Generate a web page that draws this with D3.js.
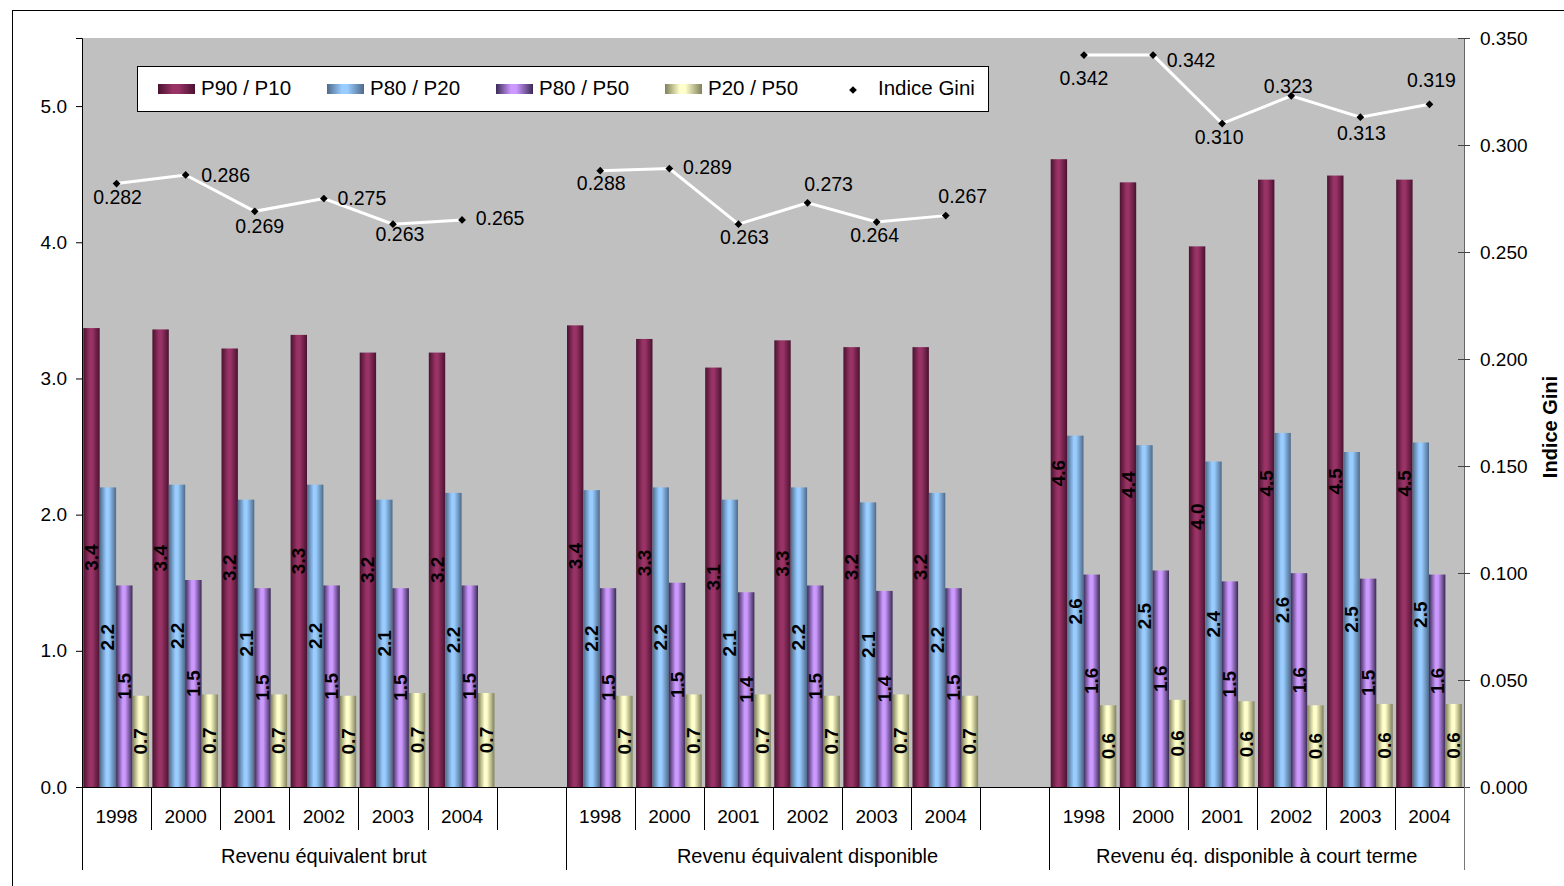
<!DOCTYPE html>
<html>
<head>
<meta charset="utf-8">
<script src="https://cdn.jsdelivr.net/npm/d3@7"></script>
<style>
  html, body { margin: 0; padding: 0; background: #fff; }
  svg { display: block; font-family: "Liberation Sans", Arial, sans-serif; }
</style>
</head>
<body>
<svg id="chart" width="1564" height="886"></svg>
<script>
// ---------- DATA ----------
const groups = ["Revenu équivalent brut", "Revenu équivalent disponible", "Revenu éq. disponible à court terme"];
const years = ["1998", "2000", "2001", "2002", "2003", "2004"];
const seriesNames = ["P90 / P10", "P80 / P20", "P80 / P50", "P20 / P50"];
const giniName = "Indice Gini";

// values per group (rows: groups, columns: years)
const p90p10 = [
  [3.37, 3.36, 3.22, 3.32, 3.19, 3.19],
  [3.39, 3.29, 3.08, 3.28, 3.23, 3.23],
  [4.61, 4.44, 3.97, 4.46, 4.49, 4.46]
];
const p80p20 = [
  [2.20, 2.22, 2.11, 2.22, 2.11, 2.16],
  [2.18, 2.20, 2.11, 2.20, 2.09, 2.16],
  [2.58, 2.51, 2.39, 2.60, 2.46, 2.53]
];
const p80p50 = [
  [1.48, 1.52, 1.46, 1.48, 1.46, 1.48],
  [1.46, 1.50, 1.43, 1.48, 1.44, 1.46],
  [1.56, 1.59, 1.51, 1.57, 1.53, 1.56]
];
const p20p50 = [
  [0.67, 0.68, 0.68, 0.67, 0.69, 0.69],
  [0.67, 0.68, 0.68, 0.67, 0.68, 0.67],
  [0.60, 0.64, 0.63, 0.60, 0.61, 0.61]
];
const gini = [
  [0.282, 0.286, 0.269, 0.275, 0.263, 0.265],
  [0.288, 0.289, 0.263, 0.273, 0.264, 0.267],
  [0.342, 0.342, 0.310, 0.323, 0.313, 0.319]
];
const leftTicks = [0, 1, 2, 3, 4, 5];
const rightTicks = [0, 0.05, 0.10, 0.15, 0.20, 0.25, 0.30, 0.35];

// ---------- LAYOUT (label offsets of Gini data labels, label centre relative to point, px) ----------
const giniLabelOffset = [
  [[1, 13], [40, 0], [5, 15], [38, -1], [7, 10], [38, -2]],
  [[1, 12], [38, -2], [6, 13], [21, -19], [-2, 13], [17, -20]],
  [[0, 23], [38, 5], [-3, 13], [-3, -10], [1, 16], [2, -24]]
];

// ---------- STYLE ----------
const colors = [
  { dark: "#4a1230", mid: "#993366" },
  { dark: "#4d6a8a", mid: "#99ccff" },
  { dark: "#3a2a55", mid: "#cc99ff" },
  { dark: "#80805a", mid: "#ffffcc" }
];
const FONT = 19;

const svg = d3.select("#chart");
const defs = svg.append("defs");
colors.forEach((c, i) => {
  const g = defs.append("linearGradient").attr("id", "grad" + i)
    .attr("x1", "0%").attr("x2", "100%").attr("y1", "0%").attr("y2", "0%");
  g.append("stop").attr("offset", "0%").attr("stop-color", c.dark);
  g.append("stop").attr("offset", "40%").attr("stop-color", c.mid);
  g.append("stop").attr("offset", "55%").attr("stop-color", c.mid);
  g.append("stop").attr("offset", "100%").attr("stop-color", c.dark);
});

// chart border
svg.append("rect").attr("x", 12.5).attr("y", 10.5).attr("width", 1600).attr("height", 900)
  .attr("fill", "#fff").attr("stroke", "#000").attr("stroke-width", 1);

// ---------- SCALES ----------
const plot = { left: 82, right: 1464, top: 38, bottom: 787 };
const cats = [];
groups.forEach((g, gi) => {
  years.forEach((y, yi) => cats.push({ key: gi + "-" + yi, gi, yi, year: y }));
  if (gi < groups.length - 1) cats.push({ key: "gap" + gi, gi, yi: -1, year: "" });
});
const x = d3.scaleBand().domain(cats.map(c => c.key)).range([plot.left, plot.right]).padding(0);
const bw = x.bandwidth();
const xs = d3.scaleBand().domain(seriesNames).range([1.3, bw - 2.2]).padding(0);
const yL = d3.scaleLinear().domain([0, 5.5]).range([plot.bottom, plot.top]);
const yR = d3.scaleLinear().domain([0, 0.35]).range([plot.bottom, plot.top]);

// plot background
svg.append("rect").attr("x", plot.left).attr("y", plot.top)
  .attr("width", plot.right - plot.left).attr("height", plot.bottom - plot.top)
  .attr("fill", "#c0c0c0");

// ---------- BARS ----------
const seriesData = [p90p10, p80p20, p80p50, p20p50];
const barRows = [];
cats.filter(c => c.yi >= 0).forEach(c => {
  seriesData.forEach((s, si) => barRows.push({ cat: c, si, v: s[c.gi][c.yi] }));
});
const bars = svg.append("g");
bars.selectAll("rect").data(barRows).join("rect")
  .attr("x", d => x(d.cat.key) + xs(seriesNames[d.si]))
  .attr("width", xs.bandwidth())
  .attr("y", d => yL(d.v))
  .attr("height", d => yL(0) - yL(d.v))
  .attr("fill", d => "url(#grad" + d.si + ")");

bars.selectAll("text").data(barRows).join("text")
  .attr("transform", d => {
    const cx = x(d.cat.key) + xs(seriesNames[d.si]) + xs.bandwidth() / 2;
    const cy = (yL(d.v) + yL(0)) / 2;
    return `translate(${cx},${cy}) rotate(-90)`;
  })
  .attr("text-anchor", "middle").attr("dominant-baseline", "central")
  .attr("font-size", FONT).attr("font-weight", "bold").attr("fill", "#000")
  .text(d => d3.format(".1f")(d.v));

// ---------- AXES ----------
const axL = svg.append("g").attr("transform", `translate(${plot.left},0)`)
  .call(d3.axisLeft(yL).tickValues(leftTicks).tickFormat(d3.format(".1f")).tickSize(6).tickPadding(9));
axL.select(".domain").attr("stroke", "#000");
axL.selectAll("text").attr("font-size", FONT).attr("font-family", "Liberation Sans, Arial").attr("fill", "#000");

const axR = svg.append("g").attr("transform", `translate(${plot.right},0)`)
  .call(d3.axisRight(yR).tickValues(rightTicks).tickFormat(d3.format(".3f")).tickSize(6).tickPadding(10));
axR.select(".domain").attr("stroke", "#666");
axR.selectAll(".tick line").attr("x1", -6).attr("stroke", "#444");
axR.selectAll("text").attr("font-size", FONT).attr("font-family", "Liberation Sans, Arial").attr("fill", "#000");

svg.append("text")
  .attr("transform", `translate(1557,427) rotate(-90)`)
  .attr("text-anchor", "middle").attr("font-size", 20).attr("font-weight", "bold")
  .text(giniName);

// category axis
const xg = svg.append("g");
xg.append("line").attr("x1", plot.left).attr("x2", plot.right)
  .attr("y1", plot.bottom + 0.5).attr("y2", plot.bottom + 0.5).attr("stroke", "#000");
const bounds = [];
cats.forEach((c, i) => {
  const isGroupStart = i === 0 || cats[i - 1].yi === -1;
  bounds.push({ xp: x(c.key), long: isGroupStart });
});
bounds.push({ xp: plot.right, long: true });
xg.selectAll("line.b").data(bounds).join("line").attr("class", "b")
  .attr("x1", d => Math.round(d.xp) + 0.5).attr("x2", d => Math.round(d.xp) + 0.5)
  .attr("y1", plot.bottom).attr("y2", d => d.long ? 870 : 830)
  .attr("stroke", (d, i) => i === bounds.length - 1 ? "#777" : "#000");
xg.selectAll("text.y").data(cats.filter(c => c.yi >= 0)).join("text").attr("class", "y")
  .attr("x", d => x(d.key) + bw / 2).attr("y", 823)
  .attr("text-anchor", "middle").attr("font-size", FONT).text(d => d.year);
xg.selectAll("text.g").data(groups).join("text").attr("class", "g")
  .attr("x", (d, gi) => {
    const first = x(gi + "-0");
    const last = gi < groups.length - 1 ? x("gap" + gi) + bw : plot.right;
    return (first + last) / 2;
  })
  .attr("y", 863).attr("text-anchor", "middle").attr("font-size", 20).text(d => d);

// ---------- GINI LINE ----------
const line = d3.line().x(d => d.x).y(d => d.y);
const marker = d3.symbol().type(d3.symbolSquare).size(30);
groups.forEach((g, gi) => {
  const pts = years.map((yr, yi) => ({
    x: x(gi + "-" + yi) + bw / 2, y: yR(gini[gi][yi]), v: gini[gi][yi], off: giniLabelOffset[gi][yi]
  }));
  svg.append("path").attr("d", line(pts)).attr("fill", "none")
    .attr("stroke", "#fff").attr("stroke-width", 3);
  svg.append("g").selectAll("path").data(pts).join("path")
    .attr("transform", d => `translate(${d.x},${d.y}) rotate(45)`).attr("d", marker).attr("fill", "#000");
  svg.append("g").selectAll("text").data(pts).join("text")
    .attr("x", d => d.x + d.off[0])
    .attr("y", d => d.y + d.off[1])
    .attr("text-anchor", "middle").attr("dominant-baseline", "central")
    .attr("font-size", 19.5).attr("fill", "#000")
    .text(d => d3.format(".3f")(d.v));
});

// ---------- LEGEND ----------
const lg = svg.append("g");
lg.append("rect").attr("x", 137.5).attr("y", 66.5).attr("width", 851).attr("height", 45)
  .attr("fill", "#fff").attr("stroke", "#000");
seriesNames.forEach((s, i) => {
  const lx = 158 + i * 169;
  lg.append("rect").attr("x", lx).attr("y", 84).attr("width", 37).attr("height", 10)
    .attr("fill", "url(#grad" + i + ")");
  lg.append("text").attr("x", lx + 43).attr("y", 95).attr("font-size", 20.5).text(s);
});
lg.append("path").attr("transform", "translate(853,90) rotate(45)").attr("d", marker).attr("fill", "#000");
lg.append("text").attr("x", 878).attr("y", 95).attr("font-size", 20.5).text(giniName);
</script>
</body>
</html>
